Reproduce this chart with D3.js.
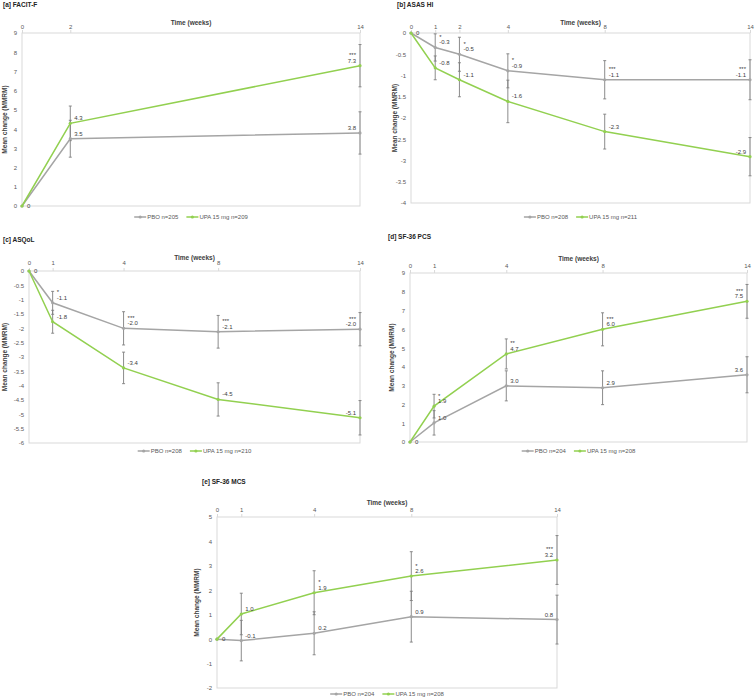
<!DOCTYPE html>
<html><head><meta charset="utf-8">
<script src="https://cdn.jsdelivr.net/npm/d3@7"></script>
<style>body{margin:0;background:#fff}svg{display:block;font-family:"Liberation Sans",Arial,sans-serif}</style>
</head><body><svg id="c" width="755" height="699"></svg>
<script>
// ---------- DATA ----------
// [a] FACIT-F
const weeksA = [0, 2, 14];
const pboA = [0, 3.5, 3.8];
const upaA = [0, 4.3, 7.3];
const pboErrA = [0, 0.96, 1.1];
const upaErrA = [0, 0.9, 1.1];
const sigA = ["", "", "***"];
const yTicksA = [0, 1, 2, 3, 4, 5, 6, 7, 8, 9];
const legendA = ["PBO n=205", "UPA 15 mg n=209"];
// [b] ASAS HI
const weeksB = [0, 1, 2, 4, 8, 14];
const pboB = [0, -0.34, -0.5, -0.89, -1.1, -1.1];
const upaB = [0, -0.82, -1.1, -1.61, -2.32, -2.91];
const pboErrB = [0, 0.32, 0.4, 0.4, 0.45, 0.47];
const upaErrB = [0, 0.28, 0.4, 0.5, 0.41, 0.45];
const sigB = ["", "*", "*", "*", "***", "***"];
const yTicksB = [0, -0.5, -1, -1.5, -2, -2.5, -3, -3.5, -4];
const legendB = ["PBO n=208", "UPA 15 mg n=211"];
// [c] ASQoL
const weeksC = [0, 1, 4, 8, 14];
const pboC = [0, -1.11, -2.0, -2.12, -2.03];
const upaC = [0, -1.77, -3.38, -4.48, -5.12];
const pboErrC = [0, 0.4, 0.58, 0.57, 0.58];
const upaErrC = [0, 0.4, 0.55, 0.58, 0.6];
const sigC = ["", "*", "***", "***", "***"];
const yTicksC = [0, -0.5, -1, -1.5, -2, -2.5, -3, -3.5, -4, -4.5, -5, -5.5, -6];
const legendC = ["PBO n=208", "UPA 15 mg n=210"];
// [d] SF-36 PCS
const weeksD = [0, 1, 4, 8, 14];
const pboD = [0, 1.02, 2.99, 2.89, 3.58];
const upaD = [0, 1.91, 4.69, 6.0, 7.49];
const pboErrD = [0, 0.65, 0.8, 0.9, 0.96];
const upaErrD = [0, 0.63, 0.8, 0.88, 0.9];
const sigD = ["", "*", "**", "***", "***"];
const yTicksD = [0, 1, 2, 3, 4, 5, 6, 7, 8, 9];
const legendD = ["PBO n=204", "UPA 15 mg n=208"];
// [e] SF-36 MCS
const weeksE = [0, 1, 4, 8, 14];
const pboE = [0, -0.06, 0.24, 0.92, 0.8];
const upaE = [0, 1.03, 1.9, 2.58, 3.24];
const pboErrE = [0, 0.83, 0.88, 1.04, 1.0];
const upaErrE = [0, 0.85, 0.9, 1.0, 1.0];
const sigE = ["", "", "*", "*", "***"];
const yTicksE = [-2, -1, 0, 1, 2, 3, 4, 5];
const legendE = ["PBO n=204", "UPA 15 mg n=208"];

const xAxisTitle = "Time (weeks)";
const yAxisTitle = "Mean change (MMRM)";
const weekDomain = [0, 14];

// ---------- LAYOUT ----------
const panels = [
  {title:"[a] FACIT-F", weeks:weeksA, pbo:pboA, upa:upaA, pboErr:pboErrA, upaErr:upaErrA, sig:sigA, sigOn:"upa", yTicks:yTicksA, legend:legendA,
   x0:22, x1:360, y0:33, y1:206, tx:3, ty:7, ytx:5, timeDy:10, tickDy:3, legY:217},
  {title:"[b] ASAS HI", weeks:weeksB, pbo:pboB, upa:upaB, pboErr:pboErrB, upaErr:upaErrB, sig:sigB, sigOn:"pbo", yTicks:yTicksB, legend:legendB,
   x0:411, x1:750, y0:33, y1:203, tx:397, ty:7, ytx:395, timeDy:10, tickDy:3, legY:217},
  {title:"[c] ASQoL", weeks:weeksC, pbo:pboC, upa:upaC, pboErr:pboErrC, upaErr:upaErrC, sig:sigC, sigOn:"pbo", yTicks:yTicksC, legend:legendC,
   x0:29, x1:360, y0:271, y1:443, tx:3, ty:242, ytx:5, timeDy:13, tickDy:5, legY:451},
  {title:"[d] SF-36 PCS", weeks:weeksD, pbo:pboD, upa:upaD, pboErr:pboErrD, upaErr:upaErrD, sig:sigD, sigOn:"upa", yTicks:yTicksD, legend:legendD,
   x0:410, x1:747, y0:273, y1:442, tx:388, ty:239, ytx:392, timeDy:14, tickDy:4, legY:451},
  {title:"[e] SF-36 MCS", weeks:weeksE, pbo:pboE, upa:upaE, pboErr:pboErrE, upaErr:upaErrE, sig:sigE, sigOn:"upa", yTicks:yTicksE, legend:legendE,
   x0:217, x1:557, y0:517, y1:688, tx:202, ty:484, ytx:197, timeDy:14, tickDy:4, legY:694}
];

const GREEN = "#92d050", GRAY = "#a5a5a5", ERR = "#7f7f7f", BORDER = "#d9d9d9";
const svg = d3.select("#c");
const fmt = v => v === 0 ? "0" : v.toFixed(1);

panels.forEach(p => {
  const g = svg.append("g");
  const x = d3.scaleLinear().domain(weekDomain).range([p.x0, p.x1]);
  const y = d3.scaleLinear().domain(d3.extent(p.yTicks)).range([p.y1, p.y0]);

  g.append("text").attr("x", p.tx).attr("y", p.ty).text(p.title)
    .attr("font-size", 6.5).attr("font-weight", "bold").attr("fill", "#222");

  g.append("rect").attr("x", p.x0).attr("y", p.y0).attr("width", p.x1 - p.x0).attr("height", p.y1 - p.y0)
    .attr("fill", "none").attr("stroke", BORDER).attr("stroke-width", 1);

  // y axis
  const ya = g.append("g").attr("transform", `translate(${p.x0},0)`)
    .call(d3.axisLeft(y).tickValues(p.yTicks).tickSize(0).tickPadding(5).tickFormat(d => String(d)));
  ya.select(".domain").remove();
  ya.selectAll("text").attr("font-size", 6).attr("fill", "#595959").attr("font-family", null);

  // top axis
  const xa = g.append("g").attr("transform", `translate(0,${p.y0})`)
    .call(d3.axisTop(x).tickValues(p.weeks).tickSize(3).tickPadding(p.tickDy - 2).tickFormat(d => String(d)));
  xa.select(".domain").remove();
  xa.selectAll("line").attr("stroke", BORDER);
  xa.selectAll("text").attr("font-size", 6).attr("fill", "#595959").attr("font-family", null);

  // axis titles
  g.append("text").attr("x", (p.x0 + p.x1) / 2).attr("y", p.y0 - p.timeDy).attr("dy", "0.35em")
    .attr("text-anchor", "middle").attr("font-size", 6.5).attr("font-weight", "bold").attr("fill", "#404040").text(xAxisTitle);
  g.append("text").attr("transform", `translate(${p.ytx},${(p.y0 + p.y1) / 2}) rotate(-90)`).attr("dy", "0.35em")
    .attr("text-anchor", "middle").attr("font-size", 6.5).attr("font-weight", "bold").attr("fill", "#404040").text(yAxisTitle);

  const series = [
    {vals:p.pbo, err:p.pboErr, color:GRAY, key:"pbo"},
    {vals:p.upa, err:p.upaErr, color:GREEN, key:"upa"}
  ];

  // error bars
  series.forEach(s => {
    p.weeks.forEach((w, i) => {
      if (!s.err[i]) return;
      const cx = x(w), ta = y(s.vals[i] + s.err[i]), tb = y(s.vals[i] - s.err[i]);
      g.append("line").attr("x1", cx).attr("x2", cx).attr("y1", ta).attr("y2", tb).attr("stroke", ERR).attr("stroke-width", 0.9);
      [ta, tb].forEach(yy => g.append("line").attr("x1", cx - 1.5).attr("x2", cx + 1.5).attr("y1", yy).attr("y2", yy)
        .attr("stroke", ERR).attr("stroke-width", 0.9));
    });
  });

  // lines + markers
  const line = d3.line().x((d) => x(d[0])).y(d => y(d[1]));
  series.forEach(s => {
    const pts = p.weeks.map((w, i) => [w, s.vals[i]]);
    g.append("path").attr("d", line(pts)).attr("fill", "none").attr("stroke", s.color).attr("stroke-width", 1.5);
    g.selectAll(null).data(pts).enter().append("circle")
      .attr("cx", d => x(d[0])).attr("cy", d => y(d[1])).attr("r", 1.6).attr("fill", s.color);
  });

  // data labels
  const last = p.weeks.length - 1;
  series.forEach(s => {
    p.weeks.forEach((w, i) => {
      if (i === 0 && s.key === "upa") return;
      const px = x(w), py = y(s.vals[i]);
      const t = g.append("text").attr("font-size", 6).attr("fill", "#404040").text(fmt(s.vals[i]));
      if (i === 0) {
        t.attr("x", px + 5).attr("y", py).attr("dy", "0.35em");
      } else if (i === last) {
        t.attr("x", px - 4).attr("y", py - 3).attr("text-anchor", "end");
      } else {
        t.attr("x", px + 4).attr("y", py - 3);
      }
      if (s.key === p.sigOn && p.sig[i]) {
        const st = g.append("text").attr("font-size", 6).attr("fill", "#404040").text(p.sig[i])
          .attr("y", py - 8.5);
        if (i === last) st.attr("x", px - 4).attr("text-anchor", "end");
        else st.attr("x", px + 4);
      }
    });
  });

  // legend
  const lg = g.append("g");
  let cx = 0;
  series.forEach((s, k) => {
    const it = lg.append("g");
    it.append("line").attr("x1", 0).attr("x2", 12).attr("y1", 0).attr("y2", 0).attr("stroke", s.color).attr("stroke-width", 1.5);
    it.append("circle").attr("cx", 6).attr("cy", 0).attr("r", 1.6).attr("fill", s.color);
    const tx = it.append("text").attr("x", 13).attr("y", 0).attr("dy", "0.35em").attr("font-size", 6).attr("fill", "#595959").text(p.legend[k]);
    const wdt = 13 + tx.node().getComputedTextLength();
    it.attr("transform", `translate(${cx},0)`);
    cx += wdt + 8;
  });
  const total = cx - 8;
  lg.attr("transform", `translate(${(p.x0 + p.x1) / 2 - total / 2},${p.legY})`);
});
</script></body></html>
